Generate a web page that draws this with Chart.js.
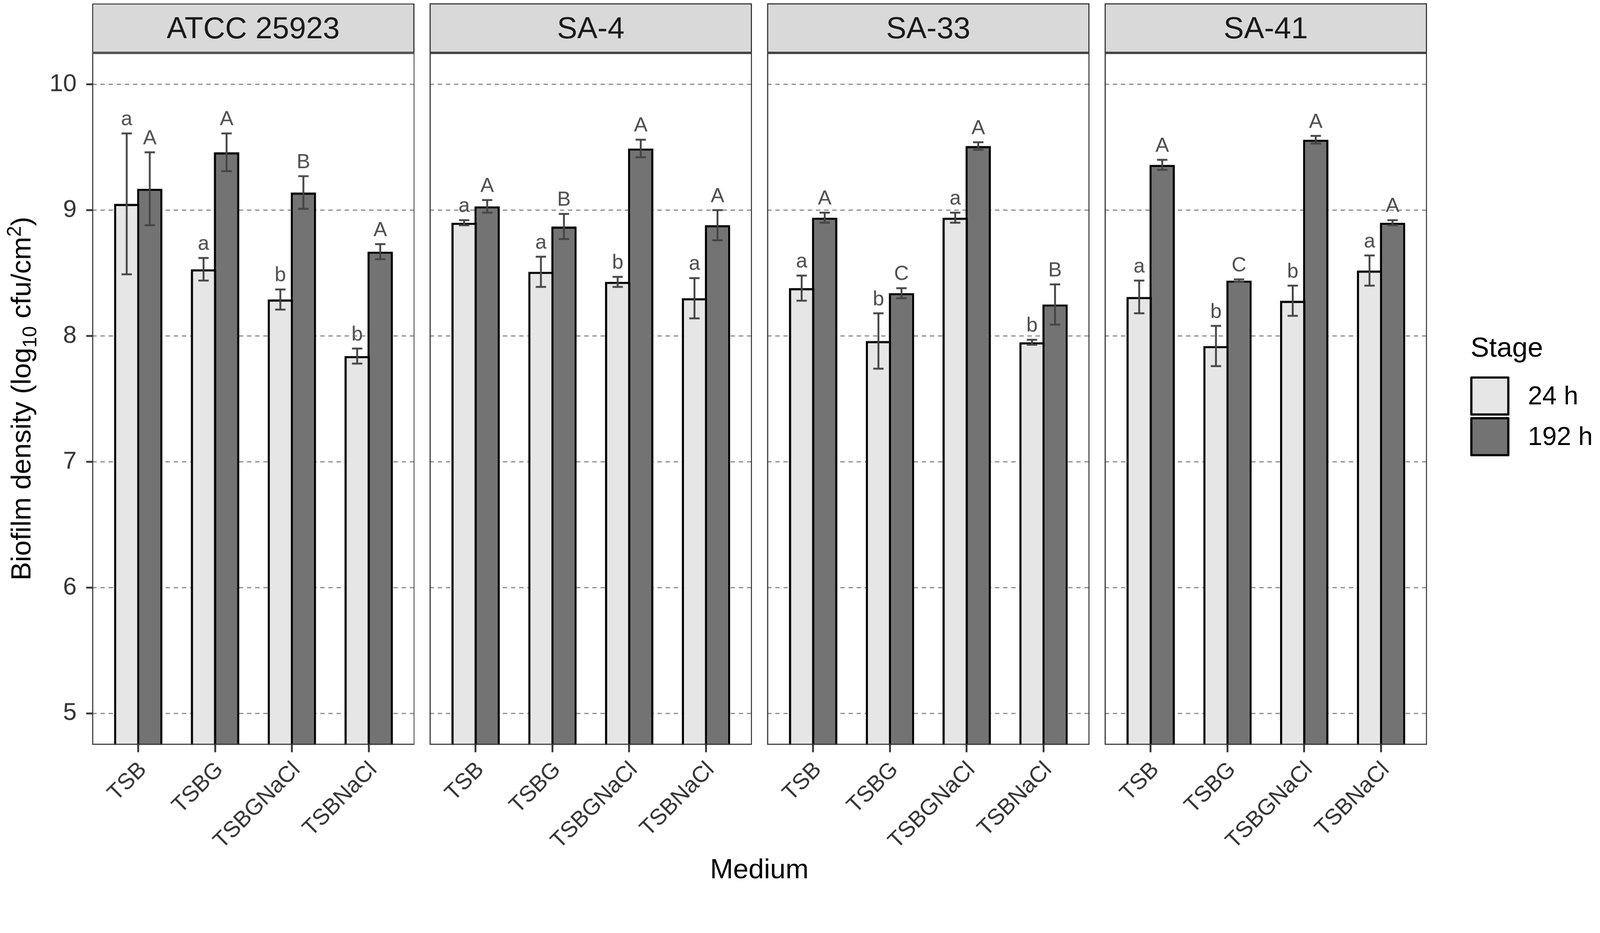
<!DOCTYPE html>
<html>
<head>
<meta charset="utf-8">
<title>Biofilm density</title>
<script src="https://cdn.jsdelivr.net/npm/chart.js@4.4.1/dist/chart.umd.min.js"></script>
<style>
  html, body { margin: 0; padding: 0; overflow: hidden; background: #fff; }
  #page { position: absolute; left: 0; top: 0; width: 4328px; height: 2388px; transform-origin: 0 0;
          font-family: "Liberation Sans", Arial, Helvetica, sans-serif; }
  canvas { position: absolute; }
  .strip { position: absolute; top: 9px; height: 134px; width: 872px; box-sizing: border-box;
           border: 3px solid #333; background: #d9d9d9; color: #1a1a1a; font-size: 82px;
           display: flex; align-items: center; justify-content: center; z-index: 2; }
  .txt { position: absolute; white-space: nowrap; line-height: 1; color: #000; z-index: 2; }
  .ytitle { left: 57px; top: 1078px; font-size: 75px; transform: translate(-50%, -50%) rotate(-90deg); }
  .ytitle sub, .ytitle sup { font-size: 70%; line-height: 0; }
  .key { position: absolute; left: 3977px; width: 106px; height: 106px; box-sizing: border-box;
         border: 6px solid #000; border-radius: 3px; }
</style>
</head>
<body>
<div id="page">
  <div class="txt ytitle">Biofilm density (log<sub>10</sub> cfu/cm<sup>2</sup>)</div>
  <div class="txt" style="left:2054px; top:2312px; font-size:75px; transform:translateX(-50%);">Medium</div>
  <div class="txt" style="left:3978px; top:902px; font-size:75px;">Stage</div>
  <div class="key" style="top:1018px; background:#e6e6e6;"></div>
  <div class="key" style="top:1128px; background:#737373;"></div>
  <div class="txt" style="left:4133px; top:1035px; font-size:70px;">24 h</div>
  <div class="txt" style="left:4133px; top:1145px; font-size:70px;">192 h</div>
</div>
<script>
const strains = ['ATCC 25923', 'SA-4', 'SA-33', 'SA-41'];
const media = ['TSB', 'TSBG', 'TSBGNaCl', 'TSBNaCl'];
const stages = ['24 h', '192 h'];
const yTicks = [5, 6, 7, 8, 9, 10];

// one row per strain, one column per medium
const mean24 = [
  [9.05, 8.53, 8.29, 7.84],
  [8.90, 8.51, 8.43, 8.30],
  [8.38, 7.96, 8.94, 7.95],
  [8.31, 7.92, 8.28, 8.52]
];
const sd24 = [
  [0.56, 0.09, 0.08, 0.06],
  [0.02, 0.12, 0.04, 0.16],
  [0.10, 0.22, 0.04, 0.02],
  [0.13, 0.16, 0.12, 0.12]
];
const mean192 = [
  [9.17, 9.46, 9.14, 8.67],
  [9.03, 8.87, 9.49, 8.88],
  [8.94, 8.34, 9.51, 8.25],
  [9.36, 8.44, 9.56, 8.90]
];
const sd192 = [
  [0.29, 0.15, 0.13, 0.06],
  [0.05, 0.10, 0.07, 0.12],
  [0.04, 0.04, 0.03, 0.16],
  [0.04, 0.01, 0.03, 0.02]
];
const letters24 = [
  ['a', 'a', 'b', 'b'],
  ['a', 'a', 'b', 'a'],
  ['a', 'b', 'a', 'b'],
  ['a', 'b', 'b', 'a']
];
const letters192 = [
  ['A', 'A', 'B', 'A'],
  ['A', 'B', 'A', 'A'],
  ['A', 'C', 'A', 'B'],
  ['A', 'C', 'A', 'A']
];

const family = '"Liberation Sans", Arial, Helvetica, sans-serif';
const panelLeft = [249, 1162, 2075, 2988];
const panelW = 872, plotTop = 143, plotH = 1871, yAxisW = 249, xAxisH = 360;

// the page is laid out at 4328x2388, fit it to whatever the viewport really is
const page = document.getElementById('page');
const k = Math.min(window.innerWidth / 4328, window.innerHeight / 2388);
page.style.transform = 'scale(' + k + ')';
const pixelRatio = (window.devicePixelRatio || 1) * k;

// error bars, group letters and the panel frame
const errorBars = {
  id: 'errorBars',
  afterDatasetsDraw(chart) {
    const { ctx, scales: { y } } = chart;
    ctx.save();
    chart.data.datasets.forEach((ds, d) => {
      chart.getDatasetMeta(d).data.forEach((bar, i) => {
        const m = ds.data[i].y, s = ds.sd[i];
        const top = y.getPixelForValue(m + s), bot = y.getPixelForValue(m - s);
        ctx.strokeStyle = '#444';
        ctx.lineWidth = 5;
        ctx.beginPath();
        ctx.moveTo(bar.x, top); ctx.lineTo(bar.x, bot);
        ctx.moveTo(bar.x - 14, top); ctx.lineTo(bar.x + 14, top);
        ctx.moveTo(bar.x - 14, bot); ctx.lineTo(bar.x + 14, bot);
        ctx.stroke();
        ctx.fillStyle = '#4d4d4d';
        ctx.font = '55px ' + family;
        ctx.textAlign = 'center';
        ctx.textBaseline = 'alphabetic';
        ctx.fillText(ds.letters[i], bar.x, top - 22);
      });
    });
    const a = chart.chartArea;
    ctx.strokeStyle = '#333';
    ctx.lineWidth = 3;
    ctx.strokeRect(a.left + 1.5, a.top + 1.5, a.right - a.left - 3, a.bottom - a.top - 3);
    ctx.restore();
  }
};

strains.forEach((name, s) => {
  const first = s === 0;
  const strip = document.createElement('div');
  strip.className = 'strip';
  strip.style.left = panelLeft[s] + 'px';
  strip.textContent = name;
  page.appendChild(strip);

  const canvas = document.createElement('canvas');
  canvas.width = panelW + (first ? yAxisW : 0);
  canvas.height = plotH + xAxisH;
  canvas.style.width = canvas.width + 'px';
  canvas.style.height = canvas.height + 'px';
  canvas.style.left = (panelLeft[s] - (first ? yAxisW : 0)) + 'px';
  canvas.style.top = plotTop + 'px';
  page.appendChild(canvas);

  new Chart(canvas, {
    type: 'bar',
    data: {
      datasets: [
        { label: stages[0], data: media.map((m, i) => ({ x: i, y: mean24[s][i] })),
          sd: sd24[s], letters: letters24[s], backgroundColor: '#e6e6e6' },
        { label: stages[1], data: media.map((m, i) => ({ x: i, y: mean192[s][i] })),
          sd: sd192[s], letters: letters192[s], backgroundColor: '#737373' }
      ]
    },
    options: {
      responsive: false,
      animation: false,
      devicePixelRatio: pixelRatio,
      layout: { padding: 0 },
      datasets: { bar: { borderColor: '#000', borderWidth: 6, categoryPercentage: 0.6, barPercentage: 1.1 } },
      plugins: { legend: { display: false }, tooltip: { enabled: false } },
      scales: {
        x: {
          type: 'linear', min: -0.6, max: 3.6, offset: false,
          afterBuildTicks: sc => { sc.ticks = media.map((m, i) => ({ value: i })); },
          afterFit: sc => { sc.height = xAxisH; sc.paddingLeft = 0; sc.paddingRight = 0; },
          ticks: { callback: v => media[v], autoSkip: false, minRotation: 45, maxRotation: 45,
                   font: { size: 61, family }, color: '#333', padding: 12, labelOffset: 13 },
          grid: { offset: false, drawOnChartArea: false, drawTicks: true, tickLength: 20,
                  tickColor: '#333', tickWidth: 5 },
          border: { display: false }
        },
        y: {
          min: 4.75, max: 10.25,
          afterBuildTicks: sc => { sc.ticks = yTicks.map(v => ({ value: v })); },
          afterFit: sc => { sc.width = first ? yAxisW : 0; sc.paddingTop = 0; sc.paddingBottom = 0; },
          ticks: { display: first, font: { size: 66, family }, color: '#333', padding: 26 },
          grid: { color: '#808080', lineWidth: 3, drawTicks: first, tickLength: 16,
                  tickColor: '#333', tickWidth: 5, tickBorderDash: [] },
          border: { display: false, dash: [12, 10] }
        }
      }
    },
    plugins: [errorBars]
  });
});
</script>
</body>
</html>
